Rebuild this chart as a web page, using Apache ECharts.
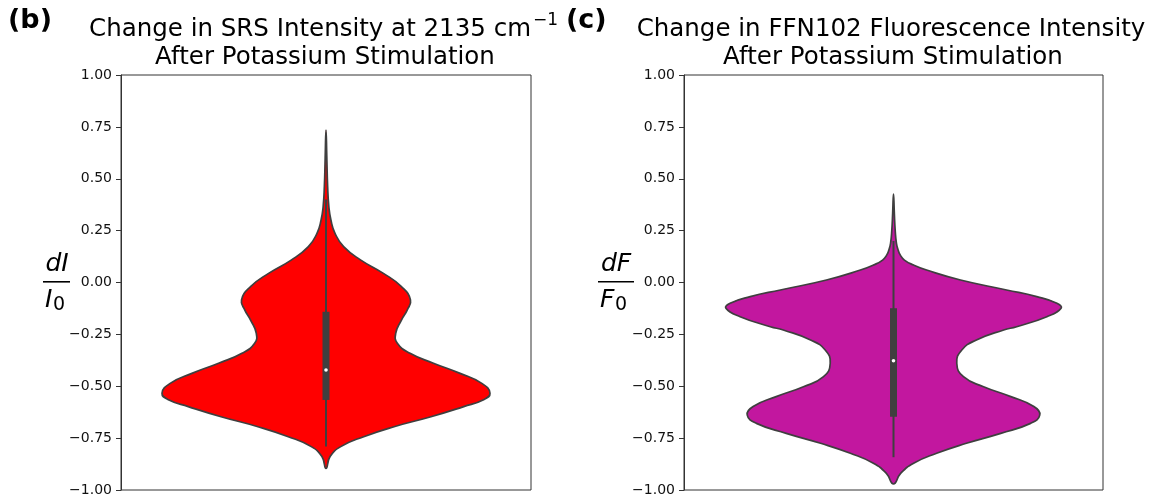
<!DOCTYPE html>
<html><head><meta charset="utf-8">
<style>html,body{margin:0;padding:0;background:#fff}#c{width:1151px;height:497px}</style>
<script src="https://cdn.jsdelivr.net/npm/echarts@6/dist/echarts.min.js"></script>
</head><body><div id="c"></div>
<script>
// ---- data ----
const panelLabels = ['(b)', '(c)'];
const titlesLine1 = ['Change in SRS Intensity at 2135 cm', 'Change in FFN102 Fluorescence Intensity'];
const titlesLine2 = ['After Potassium Stimulation', 'After Potassium Stimulation'];
const yTickLabels = ['\u22121.00','\u22120.75','\u22120.50','\u22120.25','0.00','0.25','0.50','0.75','1.00'];

// violin profile (b): value along y, half-width (category width = 1)
const srsY = [0.735, 0.60, 0.462, 0.365, 0.301, 0.237, 0.173, 0.108, 0.044, -0.020, -0.084, -0.133, -0.181, -0.245, -0.293, -0.341, -0.389, -0.438, -0.486, -0.534, -0.566, -0.598, -0.647, -0.695, -0.743, -0.791, -0.839, -0.896];
const srsW = [0, 0.002, 0.004, 0.007, 0.012, 0.022, 0.043, 0.085, 0.140, 0.184, 0.206, 0.198, 0.184, 0.170, 0.174, 0.205, 0.262, 0.327, 0.380, 0.400, 0.383, 0.336, 0.256, 0.166, 0.092, 0.036, 0.010, 0];
// box stats (b): [lower whisker, q1, median, q3, upper whisker]
const srsBox = [-0.79, -0.566, -0.422, -0.141, 0.40];

// violin profile (c)
const ffnY = [0.426, 0.333, 0.253, 0.189, 0.157, 0.133, 0.108, 0.084, 0.060, 0.012, -0.036, -0.068, -0.100, -0.124, -0.165, -0.213, -0.229, -0.277, -0.325, -0.389, -0.454, -0.502, -0.550, -0.598, -0.639, -0.679, -0.727, -0.775, -0.823, -0.871, -0.920, -0.971];
const ffnW = [0, 0.002, 0.004, 0.007, 0.011, 0.016, 0.026, 0.048, 0.079, 0.160, 0.270, 0.342, 0.390, 0.400, 0.366, 0.294, 0.263, 0.198, 0.163, 0.151, 0.167, 0.215, 0.280, 0.335, 0.349, 0.327, 0.256, 0.174, 0.103, 0.048, 0.017, 0];
const ffnBox = [-0.842, -0.647, -0.377, -0.124, 0.20];

const colors = ['#ff0000', '#c2179f'];
const edge = '#3f3f3f';

function violinRender(ys, ws, color) {
  return function (params, api) {
    const pts = [];
    for (let i = 0; i < ys.length; i++) pts.push(api.coord([ws[i], ys[i]]));
    for (let i = ys.length - 2; i >= 1; i--) pts.push(api.coord([-ws[i], ys[i]]));
    return { type: 'polygon', shape: { points: pts, smooth: 0.5 },
      style: { fill: color, stroke: edge, lineWidth: 1.7 } };
  };
}
function boxRender(st) {
  return function (params, api) {
    const lo = api.coord([0, st[0]]), q1 = api.coord([0, st[1]]), md = api.coord([0, st[2]]),
          q3 = api.coord([0, st[3]]), hi = api.coord([0, st[4]]);
    return { type: 'group', children: [
      { type: 'line', shape: { x1: hi[0], y1: hi[1], x2: lo[0], y2: lo[1] }, style: { stroke: edge, lineWidth: 2 } },
      { type: 'rect', shape: { x: q3[0] - 3.5, y: q3[1], width: 7, height: q1[1] - q3[1] }, style: { fill: edge } },
      { type: 'circle', shape: { cx: md[0], cy: md[1], r: 1.8 }, style: { fill: '#fff' } }
    ] };
  };
}

const grids = [
  { left: 121, top: 75, width: 410, height: 415 },
  { left: 684, top: 75, width: 419, height: 415 }
].map(g => Object.assign(g, { show: true, borderColor: '#333', borderWidth: 1, backgroundColor: 'transparent', outerBoundsMode: 'none', containLabel: false }));

function yAx(i) {
  return { gridIndex: i, type: 'value', min: -1, max: 1, interval: 0.25,
    axisLine: { show: true, onZero: false, lineStyle: { color: '#333', width: 1 } },
    axisTick: { show: true, inside: false, length: 5, lineStyle: { color: '#333', width: 1 } },
    axisLabel: { margin: 9, fontSize: 14, color: '#111', fontFamily: 'DejaVu Sans',
      formatter: v => yTickLabels[Math.round((v + 1) / 0.25)] },
    splitLine: { show: false } };
}
function xAx(i) { return { gridIndex: i, type: 'value', min: -0.5, max: 0.5, show: false }; }

function txt(x, y, text, size, style) {
  return { type: 'text', x: x, y: y, silent: true,
    style: Object.assign({ text: text, fill: '#000', font: size + 'px "DejaVu Sans"', textAlign: 'center', textVerticalAlign: 'middle' }, style || {}) };
}

const graphic = [
  txt(8, 21, panelLabels[0], 27, { font: 'bold 27px "DejaVu Sans"', textAlign: 'left' }),
  txt(566, 21, panelLabels[1], 27, { font: 'bold 27px "DejaVu Sans"', textAlign: 'left' }),
  txt(531, 30, titlesLine1[0], 24.5, { textAlign: 'right' }),
  txt(533, 21, '\u22121', 17, { textAlign: 'left' }),
  txt(325, 58, titlesLine2[0], 24.5),
  txt(891, 30, titlesLine1[1], 24.5),
  txt(893, 58, titlesLine2[1], 24.5),
  // y-label (b): dI / I0
  txt(57, 264, 'dI', 25, { font: 'italic 25px "DejaVu Sans"' }),
  { type: 'rect', shape: { x: 43, y: 281, width: 27, height: 1.6 }, style: { fill: '#000' }, silent: true },
  txt(45, 300, 'I', 25, { font: 'italic 25px "DejaVu Sans"', textAlign: 'left' }),
  txt(53, 305, '0', 19, { textAlign: 'left' }),
  // y-label (c): dF / F0
  txt(616, 264, 'dF', 25, { font: 'italic 25px "DejaVu Sans"' }),
  { type: 'rect', shape: { x: 598, y: 281, width: 36, height: 1.6 }, style: { fill: '#000' }, silent: true },
  txt(600, 300, 'F', 25, { font: 'italic 25px "DejaVu Sans"', textAlign: 'left' }),
  txt(615, 305, '0', 19, { textAlign: 'left' })
];

const chart = echarts.init(document.getElementById('c'), null, { renderer: 'canvas' });
chart.setOption({
  animation: false,
  backgroundColor: '#fff',
  grid: grids,
  xAxis: [xAx(0), xAx(1)],
  yAxis: [yAx(0), yAx(1)],
  series: [
    { type: 'custom', xAxisIndex: 0, yAxisIndex: 0, data: [0], silent: true, renderItem: violinRender(srsY, srsW, colors[0]) },
    { type: 'custom', xAxisIndex: 0, yAxisIndex: 0, data: [0], silent: true, renderItem: boxRender(srsBox) },
    { type: 'custom', xAxisIndex: 1, yAxisIndex: 1, data: [0], silent: true, renderItem: violinRender(ffnY, ffnW, colors[1]) },
    { type: 'custom', xAxisIndex: 1, yAxisIndex: 1, data: [0], silent: true, renderItem: boxRender(ffnBox) }
  ],
  graphic: graphic
});
</script></body></html>
